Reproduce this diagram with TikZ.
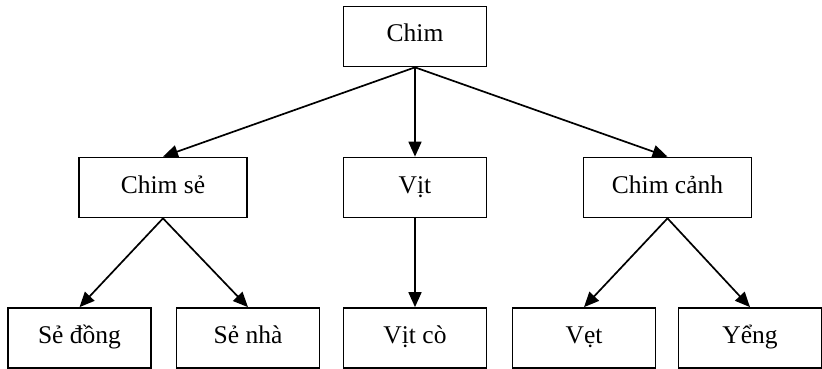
\documentclass[tikz,border=0pt]{standalone}
\usepackage{fontspec}
\setmainfont{Liberation Serif}
\usetikzlibrary{arrows.meta}
\begin{document}
\begin{tikzpicture}[x=1pt,y=-1pt,
  box/.style={draw, line width=1.7pt, rectangle, minimum width=143pt, minimum height=60pt,
    inner sep=0pt, font=\fontsize{25.5}{28}\selectfont, text height=17pt, text depth=6pt},
  wide/.style={minimum width=168pt},
  link/.style={line width=1.7pt, -{Triangle[length=15pt,width=13pt]}}]
\useasboundingbox (0,0) rectangle (822,369);
\node[box] (chim) at (415,36.5) {Chim};
\node[box,wide] (se) at (163,187.5) {Chim sẻ};
\node[box] (vit) at (415,187.5) {Vịt};
\node[box,wide] (canh) at (667.5,187.5) {Chim cảnh};
\node[box] (sedong) at (79.5,338) {Sẻ đồng};
\node[box] (senha) at (248,338) {Sẻ nhà};
\node[box] (vitco) at (415,338) {Vịt cò};
\node[box] (vet) at (584,338) {Vẹt};
\node[box] (yeng) at (750,338) {Yểng};
\draw[link] (chim.south) -- (se.north);
\draw[link] (chim.south) -- (vit.north);
\draw[link] (chim.south) -- (canh.north);
\draw[link] (se.south) -- (sedong.north);
\draw[link] (se.south) -- (senha.north);
\draw[link] (vit.south) -- (vitco.north);
\draw[link] (canh.south) -- (vet.north);
\draw[link] (canh.south) -- (yeng.north);
\end{tikzpicture}
\end{document}
